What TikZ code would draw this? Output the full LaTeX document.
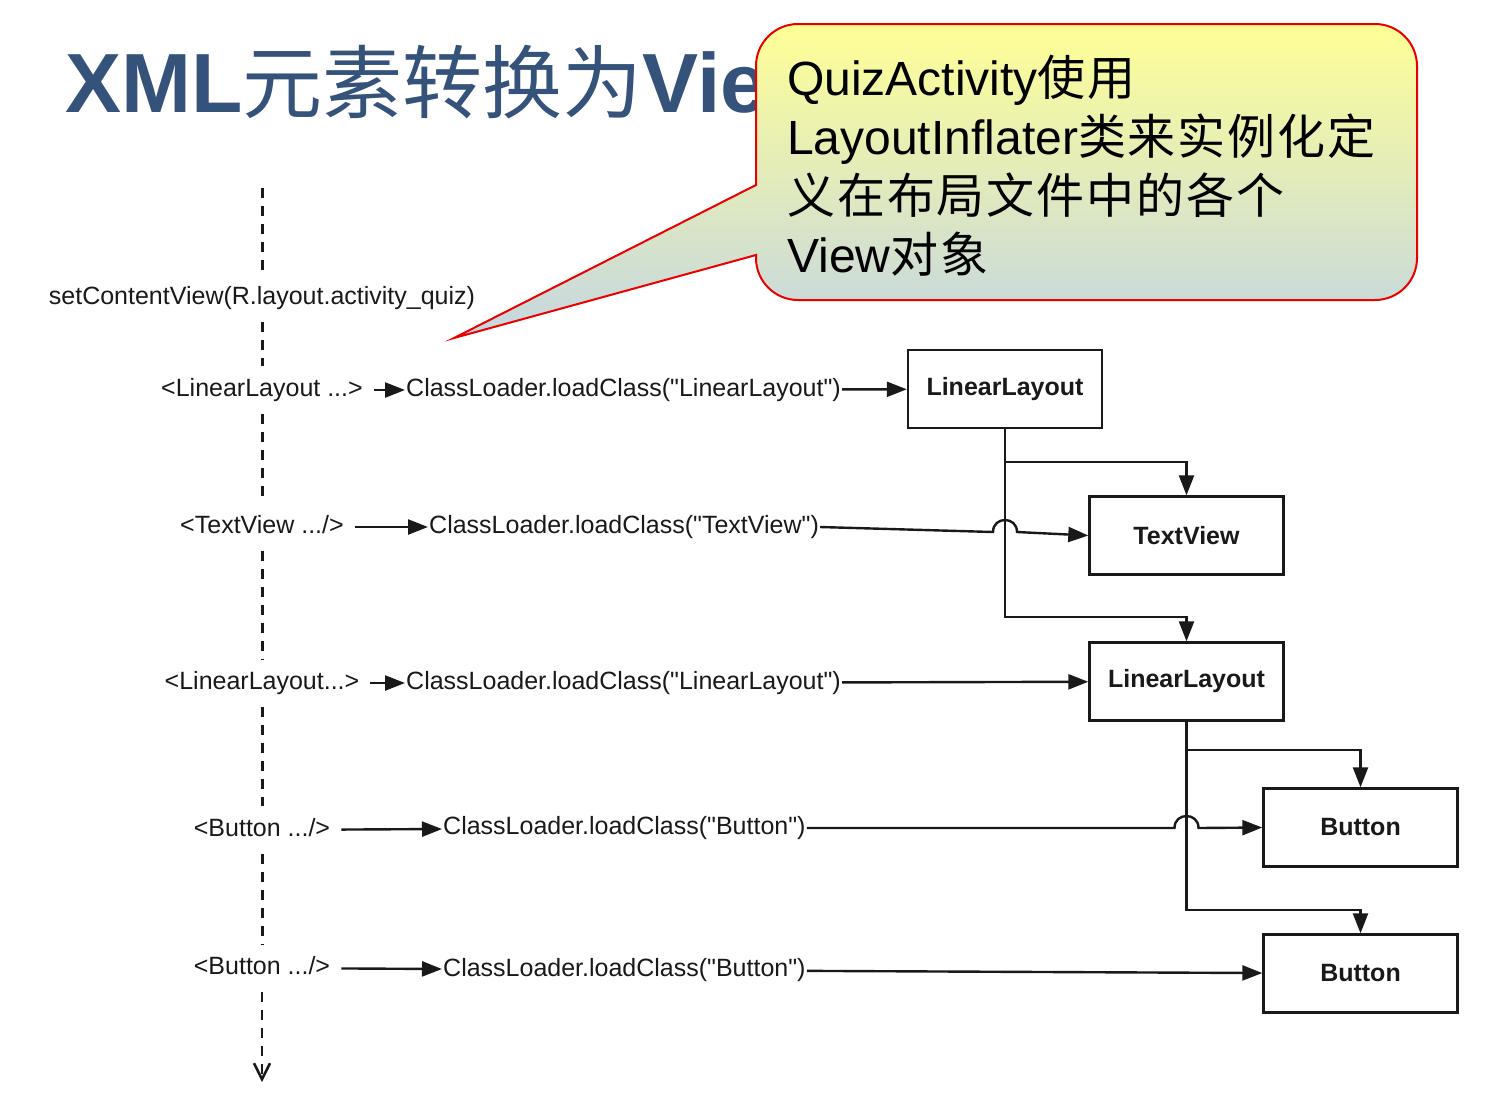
\documentclass[tikz,border=0pt]{standalone}
\usepackage{fontspec}
\setmainfont{Liberation Sans}[Ligatures=TeXOff]
\newfontfamily\cjk{Noto Sans CJK SC}
\newfontfamily\cjkwide{Noto Sans CJK SC}[LetterSpace=4]
\usetikzlibrary{arrows.meta,calc}
\definecolor{titleblue}{RGB}{52,82,122}
\definecolor{ink}{RGB}{25,25,25}
\definecolor{calltop}{RGB}{255,255,150}
\definecolor{callmid}{RGB}{234,237,180}
\definecolor{callbot}{RGB}{196,214,226}
\definecolor{callred}{RGB}{235,0,0}
\begin{document}
\begin{tikzpicture}[x=1pt,y=-1pt,
  lbl/.style={font=\fontsize{25}{30}\selectfont, text=ink, inner xsep=11pt, inner ysep=12pt, text height=18pt, text depth=5pt},
  cls/.style={font=\fontsize{25}{30}\selectfont, text=ink, inner xsep=1pt, inner ysep=0pt, text height=18pt, text depth=5pt, anchor=west},
  obj/.style={draw=ink, line width=2.4pt, minimum width=194pt, minimum height=78pt, inner sep=0pt, font=\bfseries\fontsize{25}{30}\selectfont, text=ink},
  conn/.style={draw=ink, line width=2.4pt, -{Triangle[length=20pt,width=15pt]}},
  life/.style={draw=ink, line width=3pt, dash pattern=on 10pt off 8pt},
]
\useasboundingbox (0,0) rectangle (1500,1096);

% title
\node[anchor=base west, inner sep=0pt, text=titleblue] (title) at (65,112)
  {\fontsize{84}{90}\selectfont\bfseries XML{\cjk\mdseries\fontsize{80}{90}\selectfont 元素转换为}View};

% lifeline labels
\node[lbl] (scv) at (262,298) {setContentView(R.layout.activity\_quiz)};
\node[lbl] (x1) at (262,390) {<LinearLayout ...>};
\node[lbl] (x2) at (262,527) {<TextView .../>};
\node[lbl] (x3) at (262,683) {<LinearLayout...>};
\node[lbl] (x4) at (262,830) {<Button .../>};
\node[lbl] (x5) at (262,968) {<Button .../>};

\coordinate (ltop) at (262,188);
\coordinate (lbot) at (262,1082);
\draw[life] (ltop) -- (scv);
\draw[life] (scv) -- (x1);
\draw[life] (x1) -- (x2);
\draw[life] (x2) -- (x3);
\draw[life] (x3) -- (x4);
\draw[life] (x4) -- (x5);
\draw[life, line width=2.5pt, -{Straight Barb[length=16pt,width=16pt]}] (x5) -- (lbot);

% class loader calls
\node[cls] (c1) at (405,390) {ClassLoader.loadClass("LinearLayout")};
\node[cls] (c2) at (428,527) {ClassLoader.loadClass("TextView")};
\node[cls] (c3) at (405,683) {ClassLoader.loadClass("LinearLayout")};
\node[cls] (c4) at (442,828) {ClassLoader.loadClass("Button")};
\node[cls] (c5) at (442,970) {ClassLoader.loadClass("Button")};

% objects
\node[obj] (o1) at (1005,389) {LinearLayout};
\node[obj] (o2) at (1186.5,535.5) {TextView};
\node[obj] (o3) at (1186.5,681.5) {LinearLayout};
\node[obj] (o4) at (1360.5,827.5) {Button};
\node[obj] (o5) at (1360.5,973.5) {Button};

% label -> loader
\draw[conn] (x1) -- (c1);
\draw[conn] (x2) -- (c2);
\draw[conn] (x3) -- (c3);
\draw[conn] (x4) -- (c4);
\draw[conn] (x5) -- (c5);

% loader -> object
\draw[conn] (c1) -- (o1);
\coordinate (h1) at (o1.south |- 0,532);
\draw[conn] (c2.east) -- ($(h1)+(-12,0)$) .. controls +(0,-16) and +(0,-16) .. ($(h1)+(12,0)$) -- (o2.west);
\draw[conn] (c3) -- (o3);
\coordinate (h2) at (o3.south |- 0,828);
\draw[conn] (c4.east) -- ($(h2)+(-12,0)$) .. controls +(0,-16) and +(0,-16) .. ($(h2)+(12,0)$) -- (o4.west);
\draw[conn] (c5) -- (o5);

% tree
\draw[conn] (o1.south) -- (o1.south |- 0,617) -| (o3.north);
\draw[conn] (o1.south |- 0,462) -| (o2.north);
\draw[conn] (o3.south) -- (o3.south |- 0,910) -| (o5.north);
\draw[conn] (o3.south |- 0,750) -| (o4.north);

% callout
\draw[draw=callred, line width=2pt, top color=calltop, middle color=callmid, bottom color=callbot]
  (454,338) -- (756,255) [rounded corners=42pt] -- (756,300) -- (1417,300) -- (1417,24) -- (756,24)
  [sharp corners] -- (756,185) -- cycle;
\node[anchor=base west, align=left, inner sep=0pt, font=\fontsize{48}{59}\selectfont, text=black] (ct) at (787,272)
  {QuizActivity{\cjkwide 使用}\\LayoutInflater{\cjkwide 类来实例化定}\\{\cjkwide 义在布局文件中的各个}\\View{\cjkwide 对象}};
\end{tikzpicture}
\end{document}
